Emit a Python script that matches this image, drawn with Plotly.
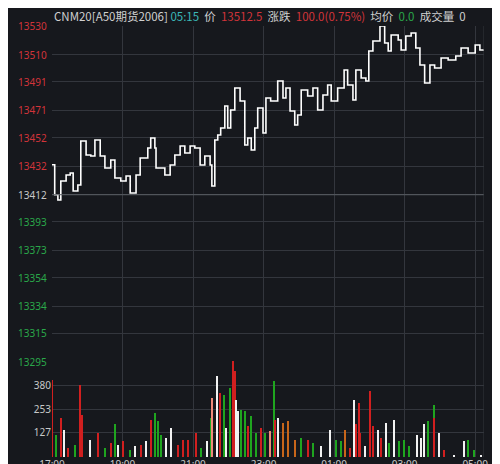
import plotly.graph_objects as go

# price line: minutes since 17:00, price
price_t = [0,4.6,10,15,24,31,36,44,49,58,66,73,82,90,100,107,117,126,133,143,150,158,163,168,175,177,185,192,201,209,218,226,235,243,252,260,269,272,277,282,287,294,299,304,311,320,328,333,339,345,350,359,364,372,384,393,398,405,413,418,424,435,444,452,461,469,475,486,497,503,512,517,526,534,539,546,558,566,572,577,589,594,602,611,619,626,634,643,651,662,674,687,696,708,720,728,735]
price_v = [13433.0,13412.0,13408.3,13421.6,13425.8,13427.2,13414.6,13418.8,13449.6,13439.8,13439.1,13450.3,13439.1,13430.7,13436.3,13423.7,13421.6,13425.1,13413.2,13425.8,13437.7,13437.7,13444.7,13451.7,13444.7,13430.7,13430.7,13425.8,13432.8,13439.8,13446.1,13441.2,13446.1,13444.7,13432.8,13439.1,13432.8,13418.1,13450.3,13453.8,13458.7,13474.0,13458.7,13471.2,13486.6,13477.5,13446.8,13451.7,13443.3,13458.7,13472.6,13455.2,13479.6,13477.5,13491.5,13479.6,13486.6,13470.5,13460.8,13467.8,13485.2,13481.0,13486.6,13471.2,13481.7,13488.7,13477.5,13486.6,13499.2,13488.7,13478.2,13499.2,13493.6,13491.5,13512.5,13519.5,13530.0,13518.1,13512.5,13523.7,13520.2,13513.2,13523.0,13525.1,13514.6,13502.7,13490.1,13502.7,13500.6,13507.6,13506.2,13509.0,13514.6,13511.1,13516.7,13513.2,13512.5]

# volume bars (pixel x in zoom -> minutes computed), volume, color code
vol_px = [133,145,160,168,180,200,215,222,245,270,290,310,320,330,345,365,380,400,415,430,440,450,460,475,490,510,525,540,565,580,598,608,613,628,635,648,655,665,675,680,685,690,700,710,720,730,745,760,772,785,797,800,810,825,840,860,880,900,915,940,965,985,1000,1010,1025,1037,1045,1053,1055,1070,1085,1095,1110,1120,1135,1145,1160,1175,1190,1205,1228,1240,1250,1260,1278,1280,1293,1310,1340,1370,1380,1400,1420]
vol_v = [408,118,206,144,48,65,382,223,92,127,48,74,176,65,82,39,56,65,82,197,233,188,118,100,153,65,92,92,127,48,82,206,311,427,336,329,153,364,505,452,303,241,250,241,162,215,127,153,127,135,399,197,206,180,188,92,100,92,74,56,144,92,82,144,48,303,176,285,127,56,347,162,144,100,180,74,197,82,92,56,118,100,176,188,277,206,127,39,12,82,92,39,12]
vol_c = list("rgrwrgrrwrgrgwrgwrwrgggwwrrrrgwgswrgwgrrwwggrggrgsgrwooogrgwwggorwrrrwrrwrwgwgggwwwggrwrwwggww")
CMAP = {"r":"#d11f1f","g":"#1fa51f","w":"#f2f2f2","s":"#f08a7a","o":"#c8661a"}

vol_t = [(p/3-44)/0.5878 for p in vol_px]

ticks_t = [0,120,240,360,480,600,720]
ticks_l = ["17:00","19:00","21:00","23:00","01:00","03:00","05:00"]
price_ticks = [13530,13510,13491,13471,13452,13432,13412,13393,13373,13354,13334,13315,13295]
vol_ticks = [127,253,380]

BG = "#16181d"; GRID = "#33363d"

fig = go.Figure()
fig.add_trace(go.Bar(x=vol_t, y=vol_v, marker_color=[CMAP[c] for c in vol_c[:len(vol_v)]],
                     marker_line_width=0, width=2.2, xaxis="x", yaxis="y2"))
fig.add_trace(go.Scatter(x=price_t, y=price_v, mode="lines", line=dict(color="white", width=1.6, shape="hv"),
                         xaxis="x", yaxis="y"))

H = 464-18-15
fig.update_layout(
    width=500, height=464, margin=dict(l=44, r=24, t=18, b=15, autoexpand=False),
    paper_bgcolor=BG, plot_bgcolor=BG, showlegend=False, bargap=0,
    xaxis=dict(range=[0,735], tickvals=ticks_t, ticktext=ticks_l, showgrid=True, gridcolor=GRID,
               gridwidth=1, zeroline=False, showline=False, ticks="", tickfont=dict(color="#c8c8c8", size=10,
               family="Noto Sans"), anchor="y2", automargin=False),
    yaxis=dict(domain=[(449-354)/H, 1], range=[13295,13530], tickvals=price_ticks, showticklabels=False,
               showgrid=True, gridcolor=GRID, zeroline=False, automargin=False),
    yaxis2=dict(domain=[0, (449-352)/H], range=[0, 380*(449-352)/72], tickvals=vol_ticks,
                showgrid=True, gridcolor=GRID, zeroline=False, ticks="", automargin=False,
                tickfont=dict(color="#c8c8c8", size=10, family="Noto Sans")),
)
fig.add_shape(type="line", xref="x", yref="y", x0=0, x1=735, y0=13412, y1=13412,
              line=dict(color="#5a5d64", width=1))
fig.add_shape(type="line", xref="x", yref="paper", x0=735, x1=735, y0=0, y1=1,
              line=dict(color=GRID, width=1))
for v in price_ticks:
    col = "#d2343a" if v > 13412 else ("#2aa84a" if v < 13412 else "#c8c8c8")
    fig.add_annotation(x=0, xref="paper", y=v, yref="y", text=str(v), showarrow=False,
                       xanchor="right", yanchor="middle", xshift=-3, font=dict(color=col, size=10, family="Noto Sans"))
fig.add_annotation(x=0, xref="paper", y=1, yref="paper", yshift=10, xanchor="left", yanchor="middle", showarrow=False,
    text=('<span style="color:#d0d0d0">CNM20[A50期货2006]</span> <span style="color:#3bb8b8">05:15</span>'
          '  <span style="color:#d0d0d0">价</span>  <span style="color:#d2343a">13512.5</span>'
          '  <span style="color:#d0d0d0">涨跌</span>  <span style="color:#d2343a">100.0(0.75%)</span>'
          '  <span style="color:#d0d0d0">均价</span>  <span style="color:#2aa84a">0.0</span>'
          '  <span style="color:#d0d0d0">成交量</span>  <span style="color:#d0d0d0">0</span>'),
    font=dict(size=11.5, family="Noto Sans CJK SC"))
fig.write_html("out.html")
